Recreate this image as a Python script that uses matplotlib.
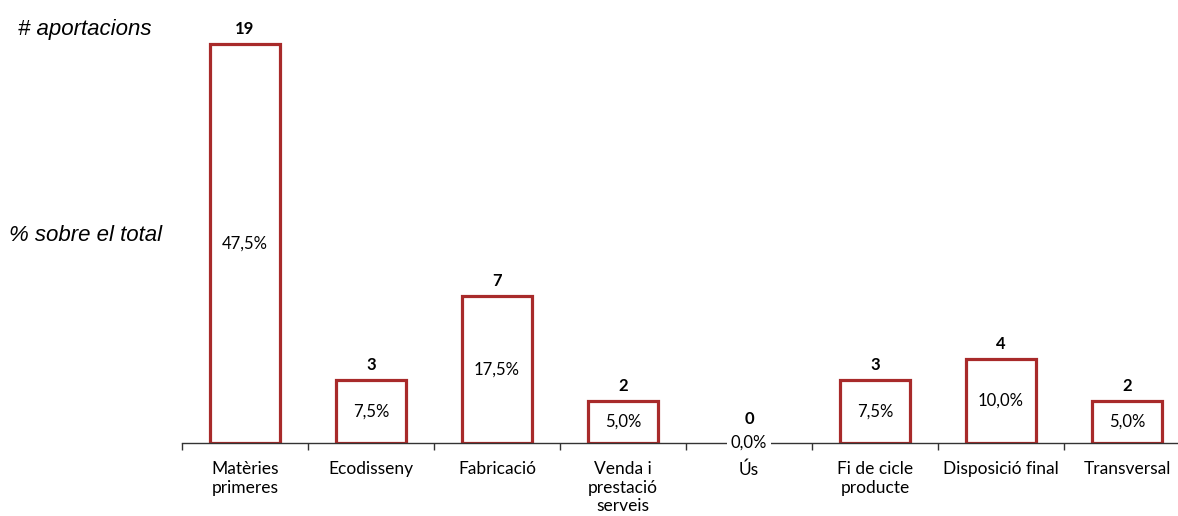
import matplotlib
matplotlib.use("Agg")
import matplotlib.pyplot as plt

categories = ["Matèries\nprimeres", "Ecodisseny", "Fabricació", "Venda i\nprestació\nserveis",
              "Ús", "Fi de cicle\nproducte", "Disposició final", "Transversal"]
counts = [19, 3, 7, 2, 0, 3, 4, 2]
pct_labels = ["47,5%", "7,5%", "17,5%", "5,0%", "0,0%", "7,5%", "10,0%", "5,0%"]

W, H = 1178, 516
fig = plt.figure(figsize=(W / 100, H / 100), dpi=100)
ax = fig.add_axes([182 / W, (H - 443) / H, 1008 / W, 441 / H])

font = "Lato"
red = "#A82A2A"
x = list(range(len(categories)))
edges = [red if c > 0 else "none" for c in counts]
ax.bar(x, counts, width=0.56, facecolor="white", edgecolor=edges, linewidth=2.3, zorder=2)

ax.set_xlim(-0.5, 7.5)
ax.set_ylim(0, 21)
for s in ["top", "right", "left"]:
    ax.spines[s].set_visible(False)
ax.spines["bottom"].set_color("#333333")
ax.spines["bottom"].set_linewidth(1.0)
ax.set_yticks([])
ax.set_xticks(x)
ax.set_xticklabels(categories, fontfamily=font, fontsize=12.5, linespacing=1.2, va="top")
ax.tick_params(axis="x", which="major", length=0, pad=13)
ax.set_xticks([i - 0.5 for i in range(len(categories))], minor=True)
ax.tick_params(axis="x", which="minor", length=5, width=1, color="#333333", direction="out")

for i, (c, p) in enumerate(zip(counts, pct_labels)):
    off = 0.35 if c > 0 else 0.75
    ax.text(i, c + off, str(c), ha="center", va="bottom", fontfamily=font,
            fontsize=12, fontweight="bold", zorder=4)
    if c > 0:
        ax.text(i, c / 2, p, ha="center", va="center", fontfamily=font, fontsize=12, zorder=4)
    else:
        ax.text(i, 0, p, ha="center", va="center", fontfamily=font, fontsize=12, zorder=4,
                bbox=dict(facecolor="white", edgecolor="none", pad=3))

fig.text(151 / W, 1 - 30 / H, "# aportacions", ha="right", va="center",
         fontfamily="Liberation Sans", fontstyle="italic", fontsize=16)
fig.text(162 / W, 1 - 236 / H, "% sobre el total", ha="right", va="center",
         fontfamily="Liberation Sans", fontstyle="italic", fontsize=16)

fig.savefig("out.png", dpi=100, facecolor="white")
